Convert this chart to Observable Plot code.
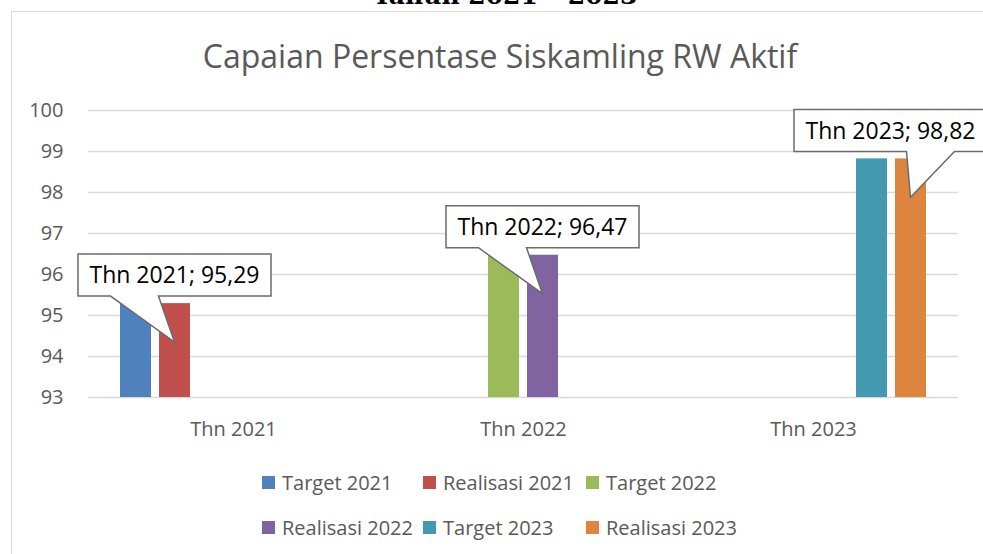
<!DOCTYPE html>
<html>
<head>
<meta charset="utf-8">
<script src="https://cdn.jsdelivr.net/npm/d3@7"></script>
<script src="https://cdn.jsdelivr.net/npm/@observablehq/plot@0.6"></script>
<style>
  body { margin: 0; background: #fff; }
  #page { position: relative; width: 983px; height: 554px; overflow: hidden; background: #fff; }
  #doc-title { position: absolute; left: 305px; width: 400px; top: -17px; text-align: center;
    font-family: "DejaVu Serif", "Liberation Serif", serif; font-weight: bold; font-size: 25px; line-height: 25px; color: #000; }
  #frame { position: absolute; left: 11px; top: 11px; width: 1200px; height: 800px;
    border: 1.5px solid #d9d9d9; box-sizing: border-box; }
  #title { position: absolute; left: 100px; width: 800px; top: 40px; text-align: center;
    font-family: "Open Sans", sans-serif; font-size: 32px; line-height: 32px; color: #595959; }
  #chart { position: absolute; left: 0; top: 80px; }
  #legend { position: absolute; left: 262px; top: 460px; display: grid;
    grid-template-columns: 161px 163px auto; grid-auto-rows: 45px;
    font-family: "Open Sans", sans-serif; font-size: 20px; color: #595959; }
  .item { display: flex; align-items: center; white-space: nowrap; }
  .sw { width: 13px; height: 13px; margin-right: 7px; flex: none; }
</style>
</head>
<body>
<div id="page">
  <div id="doc-title">Tahun 2021 – 2023</div>
  <div id="frame"></div>
  <div id="title">Capaian Persentase Siskamling RW Aktif</div>
  <div id="chart"></div>
  <div id="legend"></div>
</div>
<script>
// ---- data ----
const groups = ["Thn 2021", "Thn 2022", "Thn 2023"];
const seriesNames = ["Target 2021", "Realisasi 2021", "Target 2022", "Realisasi 2022", "Target 2023", "Realisasi 2023"];
const seriesColors = ["#4f81bd", "#c0504d", "#9bbb59", "#8064a2", "#4399b0", "#dd843f"];
const target2021 = [95.29, null, null];
const realisasi2021 = [95.29, null, null];
const target2022 = [null, 96.47, null];
const realisasi2022 = [null, 96.47, null];
const target2023 = [null, null, 98.82];
const realisasi2023 = [null, null, 98.82];
const yTicks = [93, 94, 95, 96, 97, 98, 99, 100];
const labelledSeries = ["Realisasi 2021", "Realisasi 2022", "Realisasi 2023"];

// ---- build table ----
const seriesValues = [target2021, realisasi2021, target2022, realisasi2022, target2023, realisasi2023];
const rows = [];
seriesNames.forEach((s, si) => {
  groups.forEach((g, gi) => {
    const v = seriesValues[si][gi];
    if (v != null) rows.push({group: g, series: s, value: v});
  });
});
const labelRows = rows.filter(d => labelledSeries.includes(d.series))
  .map(d => ({...d, label: `${d.group}; ${d.value.toFixed(2).replace(".", ",")}`}));
const yMin = yTicks[0], yMax = yTicks[yTicks.length - 1];

// ---- layout ----
const W = 983, H = 380, mL = 88, mR = 25, mT = 30, mB = 63;
// facet band positions (same as Plot's fx with padding 0) for clamping callouts
const fxBand = d3.scaleBand(groups, [mL, W - mR]).padding(0);

// ---- callout styling ----
const boxW = 193, boxH = 42, tipDrop = 39, tipGap = 46, chartRight = 987;

function callout(index, scales, values) {
  const g = d3.create("svg:g");
  const bw = scales.x && scales.x.bandwidth ? scales.x.bandwidth() : 0;
  for (const i of index) {
    const row = labelRows[i];
    const tipX = values.x[i] + bw / 2;
    const tipY = values.y[i] + tipDrop;
    const off = fxBand(row.group) - mL; // facet translation
    let cx = tipX;
    const maxRight = chartRight - off;
    if (cx + boxW / 2 > maxRight) cx = maxRight - boxW / 2;
    const left = cx - boxW / 2, right = cx + boxW / 2;
    const bottom = tipY - tipGap, top = bottom - boxH;
    const side = tipX > cx + 5 ? 1 : -1;
    const b1 = cx + side * 16, b2 = cx + side * 64;
    const bl = Math.min(b1, b2), br = Math.max(b1, b2);
    g.append("path")
      .attr("d", `M${left},${top}H${right}V${bottom}H${br}L${tipX},${tipY}L${bl},${bottom}H${left}Z`)
      .attr("fill", "#fff").attr("stroke", "#6b6b6b").attr("stroke-width", 1.5)
      .attr("stroke-linejoin", "miter");
    g.append("text")
      .attr("x", cx).attr("y", (top + bottom) / 2).attr("dy", "0.36em")
      .attr("text-anchor", "middle").attr("fill", "#000")
      .style("font-size", "23px").style("font-family", "'Open Sans', sans-serif")
      .text(row.label);
  }
  return g.node();
}

const chart = Plot.plot({
  width: W,
  height: H,
  marginLeft: mL,
  marginRight: mR,
  marginTop: mT,
  marginBottom: mB,
  style: {fontFamily: "'Open Sans', sans-serif", fontSize: "20px", color: "#595959", background: "transparent", overflow: "visible"},
  fx: {domain: groups, padding: 0, axis: "bottom", tickSize: 0, tickPadding: 24, label: null},
  x: {domain: seriesNames, paddingInner: 0.205, paddingOuter: 0.82, axis: null},
  y: {domain: [yMin, yMax], ticks: yTicks, tickFormat: d => String(d), tickSize: 0, tickPadding: 25, label: null},
  color: {domain: seriesNames, range: seriesColors},
  marks: [
    Plot.ruleY(yTicks, {stroke: "#d9d9d9", strokeWidth: 1.5}),
    Plot.barY(rows, {fx: "group", x: "series", y1: yMin, y2: "value", fill: "series"}),
    Plot.text(labelRows, {fx: "group", x: "series", y: "value", text: "label", render: callout})
  ]
});
document.getElementById("chart").appendChild(chart);

// ---- legend ----
const legend = d3.select("#legend");
seriesNames.forEach((s, i) => {
  const it = legend.append("div").attr("class", "item");
  it.append("div").attr("class", "sw").style("background", seriesColors[i]);
  it.append("span").text(s);
});
</script>
</body>
</html>
